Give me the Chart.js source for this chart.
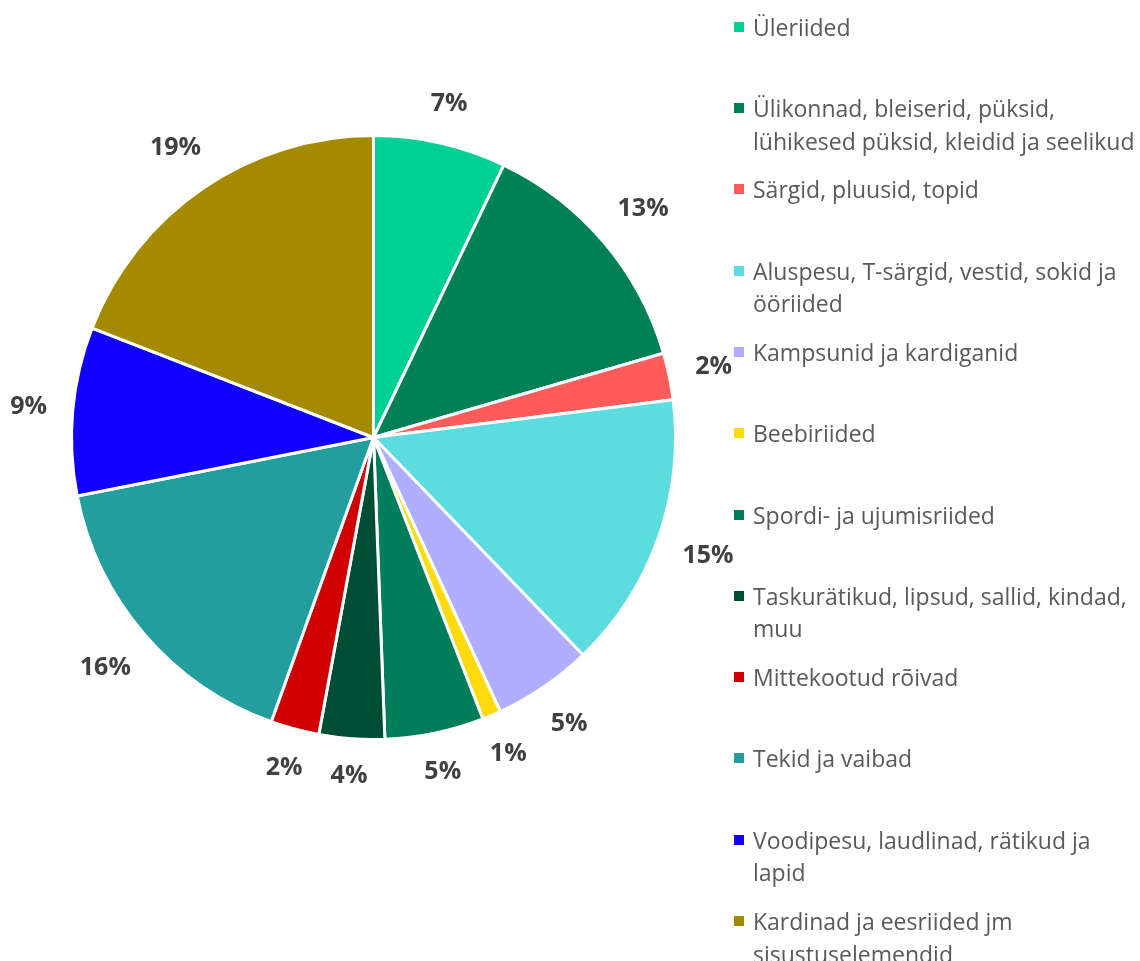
<!DOCTYPE html>
<html>
<head>
<meta charset="utf-8">
<script src="https://cdn.jsdelivr.net/npm/chart.js@4/dist/chart.umd.min.js"></script>
<style>
  html, body { margin: 0; padding: 0; background: #ffffff; }
  body { width: 1140px; height: 961px; position: relative; overflow: hidden; font-family: "Open Sans", sans-serif; }
  #wrap { position: absolute; left: 0; top: 0; width: 760px; height: 961px; }
  #legend { position: absolute; left: 734px; top: 0; width: 406px; }
  .item { position: absolute; left: 0; width: 406px; color: #595959; font-size: 23px; line-height: 32.5px; }
  .item .box { position: absolute; left: 0; top: 11px; width: 10px; height: 10px; }
  .item .txt { position: absolute; left: 19px; top: 0; white-space: nowrap; }
</style>
</head>
<body>
<div id="wrap"><canvas id="c"></canvas></div>
<div id="legend"></div>
<script>
const categories = [
  ["Üleriided"],
  ["Ülikonnad, bleiserid, püksid,", "lühikesed püksid, kleidid ja seelikud"],
  ["Särgid, pluusid, topid"],
  ["Aluspesu, T-särgid, vestid, sokid ja", "ööriided"],
  ["Kampsunid ja kardiganid"],
  ["Beebiriided"],
  ["Spordi- ja ujumisriided"],
  ["Taskurätikud, lipsud, sallid, kindad,", "muu"],
  ["Mittekootud rõivad"],
  ["Tekid ja vaibad"],
  ["Voodipesu, laudlinad, rätikud ja", "lapid"],
  ["Kardinad ja eesriided jm", "sisustuselemendid"]
];
const shares = [7.1, 13.4, 2.5, 14.8, 5.3, 1.0, 5.3, 3.5, 2.6, 16.4, 9.0, 19.1];
const percentLabels = ["7%", "13%", "2%", "15%", "5%", "1%", "5%", "4%", "2%", "16%", "9%", "19%"];
const colors = ["#00D096", "#008055", "#FF5B5B", "#5CDCDE", "#B0AEFF", "#FFDA0C", "#007E5B", "#004D35", "#D10000", "#229E9E", "#1100FF", "#A38A00"];

// Legend (HTML text)
const legend = document.getElementById('legend');
categories.forEach((lines, i) => {
  const d = document.createElement('div');
  d.className = 'item';
  d.style.top = (10.75 + 81.3 * i) + 'px';
  const b = document.createElement('span');
  b.className = 'box';
  b.style.background = colors[i];
  const t = document.createElement('span');
  t.className = 'txt';
  t.innerHTML = lines.map(s => s.replace(/&/g,'&amp;').replace(/</g,'&lt;')).join('<br>');
  d.appendChild(b); d.appendChild(t);
  legend.appendChild(d);
});

const outLabels = {
  id: 'outLabels',
  afterDatasetsDraw(chart) {
    const ctx = chart.ctx;
    const meta = chart.getDatasetMeta(0);
    ctx.save();
    ctx.font = 'bold 25px "Open Sans", sans-serif';
    ctx.fillStyle = '#404040';
    ctx.textAlign = 'center';
    ctx.textBaseline = 'middle';
    meta.data.forEach((arc, i) => {
      const p = arc.getProps(['x', 'y', 'startAngle', 'endAngle', 'outerRadius'], true);
      const mid = (p.startAngle + p.endAngle) / 2;
      const cx = Math.cos(mid), sy = Math.sin(mid);
      const txt = percentLabels[i];
      const w = ctx.measureText(txt).width;
      const h = 22;
      const off = 25 + Math.abs(cx) * w / 2 + Math.abs(sy) * h / 2;
      const r = p.outerRadius + off;
      ctx.fillText(txt, p.x + cx * r, p.y + sy * r);
    });
    ctx.restore();
  }
};

new Chart(document.getElementById('c'), {
  type: 'pie',
  data: {
    labels: categories,
    datasets: [{
      data: shares,
      backgroundColor: colors,
      borderColor: '#ffffff',
      borderWidth: 3
    }]
  },
  options: {
    responsive: true,
    maintainAspectRatio: false,
    animation: false,
    layout: { padding: { left: 70, right: 83, top: 134, bottom: 220 } },
    plugins: {
      legend: { display: false },
      tooltip: { enabled: false }
    }
  },
  plugins: [outLabels]
});
</script>
</body>
</html>
